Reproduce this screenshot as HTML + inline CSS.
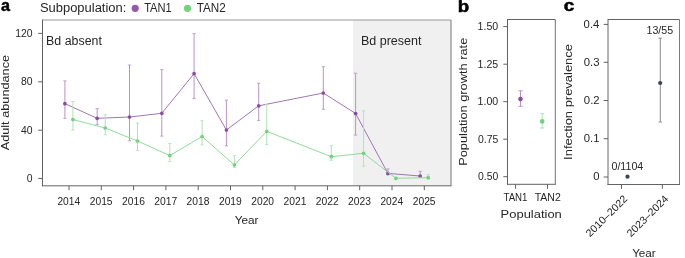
<!DOCTYPE html>
<html><head><meta charset="utf-8"><style>
html,body{margin:0;padding:0;background:#fff;width:685px;height:258px;overflow:hidden}
svg{display:block;font-family:"Liberation Sans", sans-serif;will-change:transform}
</style></head><body>
<svg width="685" height="258" viewBox="0 0 685 258">
<text x="0.93" y="10.7" font-size="16" textLength="8.97" lengthAdjust="spacingAndGlyphs" font-weight="bold" stroke="#000" stroke-width="0.5" fill="#000">a</text>
<text x="457.87" y="12.4" font-size="16" textLength="11.39" lengthAdjust="spacingAndGlyphs" font-weight="bold" stroke="#000" stroke-width="0.5" fill="#000">b</text>
<text x="563.86" y="11.2" font-size="16" textLength="10.49" lengthAdjust="spacingAndGlyphs" font-weight="bold" stroke="#000" stroke-width="0.5" fill="#000">c</text>
<text x="39.91" y="11.5" font-size="12" textLength="86.47" lengthAdjust="spacingAndGlyphs" fill="#262626">Subpopulation:</text>
<circle cx="135.2" cy="8.3" r="3.6" fill="#955aa9"/>
<text x="144.16" y="11.5" font-size="12" textLength="27.57" lengthAdjust="spacingAndGlyphs" fill="#262626">TAN1</text>
<circle cx="187.5" cy="8.3" r="3.6" fill="#74d27f"/>
<text x="196.64" y="11.5" font-size="12" textLength="29.03" lengthAdjust="spacingAndGlyphs" fill="#262626">TAN2</text>
<rect x="353" y="20.0" width="98.0" height="165.8" fill="#f0f0f0"/>
<line x1="42.5" y1="20" x2="451" y2="20" stroke="#999999" stroke-width="1"/>
<line x1="451" y1="20" x2="451" y2="185.8" stroke="#777777" stroke-width="1"/>
<line x1="42.5" y1="19.5" x2="42.5" y2="186.3" stroke="#626262" stroke-width="1"/>
<line x1="42" y1="185.8" x2="451.5" y2="185.8" stroke="#666666" stroke-width="1"/>
<line x1="38.2" y1="178.45" x2="42.5" y2="178.45" stroke="#626262" stroke-width="1"/>
<text x="26.82" y="181.85" font-size="10" textLength="5.78" lengthAdjust="spacingAndGlyphs" fill="#262626">0</text>
<line x1="38.2" y1="130.2" x2="42.5" y2="130.2" stroke="#626262" stroke-width="1"/>
<text x="21.04" y="133.6" font-size="10" textLength="11.57" lengthAdjust="spacingAndGlyphs" fill="#262626">40</text>
<line x1="38.2" y1="81.8" x2="42.5" y2="81.8" stroke="#626262" stroke-width="1"/>
<text x="21.04" y="85.2" font-size="10" textLength="11.57" lengthAdjust="spacingAndGlyphs" fill="#262626">80</text>
<line x1="38.2" y1="33.4" x2="42.5" y2="33.4" stroke="#626262" stroke-width="1"/>
<text x="15.25" y="36.8" font-size="10" textLength="17.35" lengthAdjust="spacingAndGlyphs" fill="#262626">120</text>
<line x1="69" y1="185.8" x2="69" y2="190.2" stroke="#626262" stroke-width="1"/>
<text x="57.44" y="204.5" font-size="10" textLength="22.71" lengthAdjust="spacingAndGlyphs" fill="#262626">2014</text>
<line x1="101.3" y1="185.8" x2="101.3" y2="190.2" stroke="#626262" stroke-width="1"/>
<text x="89.73" y="204.5" font-size="10" textLength="22.85" lengthAdjust="spacingAndGlyphs" fill="#262626">2015</text>
<line x1="133.6" y1="185.8" x2="133.6" y2="190.2" stroke="#626262" stroke-width="1"/>
<text x="122.03" y="204.5" font-size="10" textLength="22.87" lengthAdjust="spacingAndGlyphs" fill="#262626">2016</text>
<line x1="165.9" y1="185.8" x2="165.9" y2="190.2" stroke="#626262" stroke-width="1"/>
<text x="154.33" y="204.5" font-size="10" textLength="22.94" lengthAdjust="spacingAndGlyphs" fill="#262626">2017</text>
<line x1="198.2" y1="185.8" x2="198.2" y2="190.2" stroke="#626262" stroke-width="1"/>
<text x="186.63" y="204.5" font-size="10" textLength="22.86" lengthAdjust="spacingAndGlyphs" fill="#262626">2018</text>
<line x1="230.5" y1="185.8" x2="230.5" y2="190.2" stroke="#626262" stroke-width="1"/>
<text x="218.93" y="204.5" font-size="10" textLength="22.91" lengthAdjust="spacingAndGlyphs" fill="#262626">2019</text>
<line x1="262.8" y1="185.8" x2="262.8" y2="190.2" stroke="#626262" stroke-width="1"/>
<text x="251.23" y="204.5" font-size="10" textLength="22.82" lengthAdjust="spacingAndGlyphs" fill="#262626">2020</text>
<line x1="295.1" y1="185.8" x2="295.1" y2="190.2" stroke="#626262" stroke-width="1"/>
<text x="283.53" y="204.5" font-size="10" textLength="22.92" lengthAdjust="spacingAndGlyphs" fill="#262626">2021</text>
<line x1="327.4" y1="185.8" x2="327.4" y2="190.2" stroke="#626262" stroke-width="1"/>
<text x="315.83" y="204.5" font-size="10" textLength="22.94" lengthAdjust="spacingAndGlyphs" fill="#262626">2022</text>
<line x1="359.7" y1="185.8" x2="359.7" y2="190.2" stroke="#626262" stroke-width="1"/>
<text x="348.13" y="204.5" font-size="10" textLength="22.87" lengthAdjust="spacingAndGlyphs" fill="#262626">2023</text>
<line x1="392" y1="185.8" x2="392" y2="190.2" stroke="#626262" stroke-width="1"/>
<text x="380.44" y="204.5" font-size="10" textLength="22.71" lengthAdjust="spacingAndGlyphs" fill="#262626">2024</text>
<line x1="424.3" y1="185.8" x2="424.3" y2="190.2" stroke="#626262" stroke-width="1"/>
<text x="412.73" y="204.5" font-size="10" textLength="22.85" lengthAdjust="spacingAndGlyphs" fill="#262626">2025</text>
<text x="234.65" y="223.8" font-size="11.5" textLength="23.84" lengthAdjust="spacingAndGlyphs" fill="#262626">Year</text>
<text transform="translate(9.0,150.3) rotate(-90)" x="-0.02" y="0" font-size="11.5" textLength="95.39" lengthAdjust="spacingAndGlyphs" fill="#262626">Adult abundance</text>
<text x="46.08" y="44.8" font-size="12" textLength="55.81" lengthAdjust="spacingAndGlyphs" fill="#262626">Bd absent</text>
<text x="360.97" y="44.8" font-size="12" textLength="60.52" lengthAdjust="spacingAndGlyphs" fill="#262626">Bd present</text>
<polyline points="64.9,103.7 97.2,118.3 129.5,117 161.8,113.3 194.1,73.6 226.4,130 258.7,105.8 323.3,93 355.6,113.5 387.9,173.4 420.2,176" fill="none" stroke="#a373b8" stroke-width="1"/>
<line x1="64.9" y1="80.9" x2="64.9" y2="118.3" stroke="#ba92cb" stroke-width="1"/>
<line x1="63.25" y1="80.9" x2="66.55" y2="80.9" stroke="#ba92cb" stroke-width="0.85"/>
<line x1="63.25" y1="118.3" x2="66.55" y2="118.3" stroke="#ba92cb" stroke-width="0.85"/>
<line x1="97.2" y1="108.7" x2="97.2" y2="124.6" stroke="#ba92cb" stroke-width="1"/>
<line x1="95.55" y1="108.7" x2="98.85" y2="108.7" stroke="#ba92cb" stroke-width="0.85"/>
<line x1="95.55" y1="124.6" x2="98.85" y2="124.6" stroke="#ba92cb" stroke-width="0.85"/>
<line x1="129.5" y1="65" x2="129.5" y2="140.7" stroke="#ba92cb" stroke-width="1"/>
<line x1="127.85" y1="65" x2="131.15" y2="65" stroke="#ba92cb" stroke-width="0.85"/>
<line x1="127.85" y1="140.7" x2="131.15" y2="140.7" stroke="#ba92cb" stroke-width="0.85"/>
<line x1="161.8" y1="69.6" x2="161.8" y2="136.1" stroke="#ba92cb" stroke-width="1"/>
<line x1="160.15" y1="69.6" x2="163.45" y2="69.6" stroke="#ba92cb" stroke-width="0.85"/>
<line x1="160.15" y1="136.1" x2="163.45" y2="136.1" stroke="#ba92cb" stroke-width="0.85"/>
<line x1="194.1" y1="33.6" x2="194.1" y2="98.6" stroke="#ba92cb" stroke-width="1"/>
<line x1="192.45" y1="33.6" x2="195.75" y2="33.6" stroke="#ba92cb" stroke-width="0.85"/>
<line x1="192.45" y1="98.6" x2="195.75" y2="98.6" stroke="#ba92cb" stroke-width="0.85"/>
<line x1="226.4" y1="100.1" x2="226.4" y2="145.8" stroke="#ba92cb" stroke-width="1"/>
<line x1="224.75" y1="100.1" x2="228.05" y2="100.1" stroke="#ba92cb" stroke-width="0.85"/>
<line x1="224.75" y1="145.8" x2="228.05" y2="145.8" stroke="#ba92cb" stroke-width="0.85"/>
<line x1="258.7" y1="83.3" x2="258.7" y2="120.4" stroke="#ba92cb" stroke-width="1"/>
<line x1="257.05" y1="83.3" x2="260.35" y2="83.3" stroke="#ba92cb" stroke-width="0.85"/>
<line x1="257.05" y1="120.4" x2="260.35" y2="120.4" stroke="#ba92cb" stroke-width="0.85"/>
<line x1="323.3" y1="66.7" x2="323.3" y2="109.3" stroke="#ba92cb" stroke-width="1"/>
<line x1="321.65" y1="66.7" x2="324.95" y2="66.7" stroke="#ba92cb" stroke-width="0.85"/>
<line x1="321.65" y1="109.3" x2="324.95" y2="109.3" stroke="#ba92cb" stroke-width="0.85"/>
<line x1="355.6" y1="73.2" x2="355.6" y2="135.1" stroke="#ba92cb" stroke-width="1"/>
<line x1="353.95" y1="73.2" x2="357.25" y2="73.2" stroke="#ba92cb" stroke-width="0.85"/>
<line x1="353.95" y1="135.1" x2="357.25" y2="135.1" stroke="#ba92cb" stroke-width="0.85"/>
<line x1="387.9" y1="168.9" x2="387.9" y2="174.8" stroke="#ba92cb" stroke-width="1"/>
<line x1="386.25" y1="168.9" x2="389.55" y2="168.9" stroke="#ba92cb" stroke-width="0.85"/>
<line x1="386.25" y1="174.8" x2="389.55" y2="174.8" stroke="#ba92cb" stroke-width="0.85"/>
<line x1="420.2" y1="171.3" x2="420.2" y2="176.8" stroke="#ba92cb" stroke-width="1"/>
<line x1="418.55" y1="171.3" x2="421.85" y2="171.3" stroke="#ba92cb" stroke-width="0.85"/>
<line x1="418.55" y1="176.8" x2="421.85" y2="176.8" stroke="#ba92cb" stroke-width="0.85"/>
<circle cx="64.9" cy="103.7" r="1.85" fill="#8a4c9f"/>
<circle cx="97.2" cy="118.3" r="1.85" fill="#8a4c9f"/>
<circle cx="129.5" cy="117" r="1.85" fill="#8a4c9f"/>
<circle cx="161.8" cy="113.3" r="1.85" fill="#8a4c9f"/>
<circle cx="194.1" cy="73.6" r="1.85" fill="#8a4c9f"/>
<circle cx="226.4" cy="130" r="1.85" fill="#8a4c9f"/>
<circle cx="258.7" cy="105.8" r="1.85" fill="#8a4c9f"/>
<circle cx="323.3" cy="93" r="1.85" fill="#8a4c9f"/>
<circle cx="355.6" cy="113.5" r="1.85" fill="#8a4c9f"/>
<circle cx="387.9" cy="173.4" r="1.85" fill="#8a4c9f"/>
<circle cx="420.2" cy="176" r="1.85" fill="#8a4c9f"/>
<polyline points="72.9,119.5 105.2,128 137.5,141 169.8,155.6 202.1,136.5 234.4,165 266.7,131.3 331.3,156.7 363.6,153.3 395.9,178.3 428.2,177.7" fill="none" stroke="#90da98" stroke-width="1"/>
<line x1="72.9" y1="101.5" x2="72.9" y2="130.1" stroke="#aee5b3" stroke-width="1"/>
<line x1="71.25" y1="101.5" x2="74.55" y2="101.5" stroke="#aee5b3" stroke-width="0.85"/>
<line x1="71.25" y1="130.1" x2="74.55" y2="130.1" stroke="#aee5b3" stroke-width="0.85"/>
<line x1="105.2" y1="114.6" x2="105.2" y2="134.8" stroke="#aee5b3" stroke-width="1"/>
<line x1="103.55" y1="114.6" x2="106.85" y2="114.6" stroke="#aee5b3" stroke-width="0.85"/>
<line x1="103.55" y1="134.8" x2="106.85" y2="134.8" stroke="#aee5b3" stroke-width="0.85"/>
<line x1="137.5" y1="123" x2="137.5" y2="150.6" stroke="#aee5b3" stroke-width="1"/>
<line x1="135.85" y1="123" x2="139.15" y2="123" stroke="#aee5b3" stroke-width="0.85"/>
<line x1="135.85" y1="150.6" x2="139.15" y2="150.6" stroke="#aee5b3" stroke-width="0.85"/>
<line x1="169.8" y1="143.5" x2="169.8" y2="161.5" stroke="#aee5b3" stroke-width="1"/>
<line x1="168.15" y1="143.5" x2="171.45" y2="143.5" stroke="#aee5b3" stroke-width="0.85"/>
<line x1="168.15" y1="161.5" x2="171.45" y2="161.5" stroke="#aee5b3" stroke-width="0.85"/>
<line x1="202.1" y1="120.7" x2="202.1" y2="144.9" stroke="#aee5b3" stroke-width="1"/>
<line x1="200.45" y1="120.7" x2="203.75" y2="120.7" stroke="#aee5b3" stroke-width="0.85"/>
<line x1="200.45" y1="144.9" x2="203.75" y2="144.9" stroke="#aee5b3" stroke-width="0.85"/>
<line x1="234.4" y1="155.7" x2="234.4" y2="167.3" stroke="#aee5b3" stroke-width="1"/>
<line x1="232.75" y1="155.7" x2="236.05" y2="155.7" stroke="#aee5b3" stroke-width="0.85"/>
<line x1="232.75" y1="167.3" x2="236.05" y2="167.3" stroke="#aee5b3" stroke-width="0.85"/>
<line x1="266.7" y1="104.7" x2="266.7" y2="144.6" stroke="#aee5b3" stroke-width="1"/>
<line x1="265.05" y1="104.7" x2="268.35" y2="104.7" stroke="#aee5b3" stroke-width="0.85"/>
<line x1="265.05" y1="144.6" x2="268.35" y2="144.6" stroke="#aee5b3" stroke-width="0.85"/>
<line x1="331.3" y1="145.6" x2="331.3" y2="160.3" stroke="#aee5b3" stroke-width="1"/>
<line x1="329.65" y1="145.6" x2="332.95" y2="145.6" stroke="#aee5b3" stroke-width="0.85"/>
<line x1="329.65" y1="160.3" x2="332.95" y2="160.3" stroke="#aee5b3" stroke-width="0.85"/>
<line x1="363.6" y1="110.8" x2="363.6" y2="166.3" stroke="#aee5b3" stroke-width="1"/>
<line x1="361.95" y1="110.8" x2="365.25" y2="110.8" stroke="#aee5b3" stroke-width="0.85"/>
<line x1="361.95" y1="166.3" x2="365.25" y2="166.3" stroke="#aee5b3" stroke-width="0.85"/>
<line x1="395.9" y1="177.3" x2="395.9" y2="178.9" stroke="#aee5b3" stroke-width="1"/>
<line x1="394.25" y1="177.3" x2="397.55" y2="177.3" stroke="#aee5b3" stroke-width="0.85"/>
<line x1="394.25" y1="178.9" x2="397.55" y2="178.9" stroke="#aee5b3" stroke-width="0.85"/>
<line x1="428.2" y1="174.6" x2="428.2" y2="178.7" stroke="#aee5b3" stroke-width="1"/>
<line x1="426.55" y1="174.6" x2="429.85" y2="174.6" stroke="#aee5b3" stroke-width="0.85"/>
<line x1="426.55" y1="178.7" x2="429.85" y2="178.7" stroke="#aee5b3" stroke-width="0.85"/>
<circle cx="72.9" cy="119.5" r="1.85" fill="#74d27f"/>
<circle cx="105.2" cy="128" r="1.85" fill="#74d27f"/>
<circle cx="137.5" cy="141" r="1.85" fill="#74d27f"/>
<circle cx="169.8" cy="155.6" r="1.85" fill="#74d27f"/>
<circle cx="202.1" cy="136.5" r="1.85" fill="#74d27f"/>
<circle cx="234.4" cy="165" r="1.85" fill="#74d27f"/>
<circle cx="266.7" cy="131.3" r="1.85" fill="#74d27f"/>
<circle cx="331.3" cy="156.7" r="1.85" fill="#74d27f"/>
<circle cx="363.6" cy="153.3" r="1.85" fill="#74d27f"/>
<circle cx="395.9" cy="178.3" r="1.85" fill="#74d27f"/>
<circle cx="428.2" cy="177.7" r="1.85" fill="#74d27f"/>
<line x1="507.5" y1="19.5" x2="555.3" y2="19.5" stroke="#626262" stroke-width="1"/>
<line x1="555.3" y1="19.5" x2="555.3" y2="184.3" stroke="#707070" stroke-width="1"/>
<line x1="507.5" y1="19" x2="507.5" y2="184.8" stroke="#626262" stroke-width="1"/>
<line x1="507" y1="184.3" x2="555.8" y2="184.3" stroke="#626262" stroke-width="1"/>
<line x1="503.3" y1="26.6" x2="507.5" y2="26.6" stroke="#626262" stroke-width="1"/>
<text x="477.59" y="29.900000000000002" font-size="10" textLength="20.62" lengthAdjust="spacingAndGlyphs" fill="#262626">1.50</text>
<line x1="503.3" y1="64.2" x2="507.5" y2="64.2" stroke="#626262" stroke-width="1"/>
<text x="477.59" y="67.5" font-size="10" textLength="20.65" lengthAdjust="spacingAndGlyphs" fill="#262626">1.25</text>
<line x1="503.3" y1="101.7" x2="507.5" y2="101.7" stroke="#626262" stroke-width="1"/>
<text x="477.59" y="105.0" font-size="10" textLength="20.62" lengthAdjust="spacingAndGlyphs" fill="#262626">1.00</text>
<line x1="503.3" y1="139.2" x2="507.5" y2="139.2" stroke="#626262" stroke-width="1"/>
<text x="477.99" y="142.5" font-size="10" textLength="20.24" lengthAdjust="spacingAndGlyphs" fill="#262626">0.75</text>
<line x1="503.3" y1="176.7" x2="507.5" y2="176.7" stroke="#626262" stroke-width="1"/>
<text x="477.99" y="180.0" font-size="10" textLength="20.21" lengthAdjust="spacingAndGlyphs" fill="#262626">0.50</text>
<line x1="515.6" y1="184.3" x2="515.6" y2="188.8" stroke="#626262" stroke-width="1"/>
<line x1="547.5" y1="184.3" x2="547.5" y2="188.8" stroke="#626262" stroke-width="1"/>
<text x="503.49" y="201.0" font-size="10" textLength="23.97" lengthAdjust="spacingAndGlyphs" fill="#262626">TAN1</text>
<text x="534.67" y="201.0" font-size="10" textLength="26.14" lengthAdjust="spacingAndGlyphs" fill="#262626">TAN2</text>
<text x="500.64" y="217.5" font-size="11.5" textLength="61.2" lengthAdjust="spacingAndGlyphs" fill="#262626">Population</text>
<text transform="translate(467.4,164.8) rotate(-90)" x="-1.05" y="0" font-size="11.5" textLength="128.12" lengthAdjust="spacingAndGlyphs" fill="#262626">Population growth rate</text>
<line x1="520.5" y1="90.8" x2="520.5" y2="106.3" stroke="#ba92cb" stroke-width="1"/>
<line x1="518.5" y1="90.8" x2="522.5" y2="90.8" stroke="#ba92cb" stroke-width="1"/>
<line x1="518.5" y1="106.3" x2="522.5" y2="106.3" stroke="#ba92cb" stroke-width="1"/>
<circle cx="520.5" cy="99" r="2.3" fill="#8a4c9f"/>
<line x1="542.2" y1="113.7" x2="542.2" y2="128" stroke="#aee5b3" stroke-width="1"/>
<line x1="540.2" y1="113.7" x2="544.2" y2="113.7" stroke="#aee5b3" stroke-width="1"/>
<line x1="540.2" y1="128" x2="544.2" y2="128" stroke="#aee5b3" stroke-width="1"/>
<circle cx="542.2" cy="121.4" r="2.3" fill="#74d27f"/>
<line x1="608" y1="19.5" x2="679.5" y2="19.5" stroke="#626262" stroke-width="1"/>
<line x1="679.5" y1="19.5" x2="679.5" y2="184.5" stroke="#7a7a7a" stroke-width="1"/>
<line x1="608" y1="19" x2="608" y2="185" stroke="#666666" stroke-width="1"/>
<line x1="607.5" y1="184.5" x2="680" y2="184.5" stroke="#626262" stroke-width="1"/>
<line x1="603.7" y1="177" x2="608" y2="177" stroke="#626262" stroke-width="1"/>
<text x="593.16" y="180.3" font-size="10" textLength="6.28" lengthAdjust="spacingAndGlyphs" fill="#262626">0</text>
<line x1="603.7" y1="138.7" x2="608" y2="138.7" stroke="#626262" stroke-width="1"/>
<text x="583.84" y="142.0" font-size="10" textLength="15.71" lengthAdjust="spacingAndGlyphs" fill="#262626">0.1</text>
<line x1="603.7" y1="100.5" x2="608" y2="100.5" stroke="#626262" stroke-width="1"/>
<text x="583.86" y="103.8" font-size="10" textLength="15.71" lengthAdjust="spacingAndGlyphs" fill="#262626">0.2</text>
<line x1="603.7" y1="62.3" x2="608" y2="62.3" stroke="#626262" stroke-width="1"/>
<text x="583.79" y="65.6" font-size="10" textLength="15.71" lengthAdjust="spacingAndGlyphs" fill="#262626">0.3</text>
<line x1="603.7" y1="24.4" x2="608" y2="24.4" stroke="#626262" stroke-width="1"/>
<text x="583.62" y="27.7" font-size="10" textLength="15.71" lengthAdjust="spacingAndGlyphs" fill="#262626">0.4</text>
<line x1="621.5" y1="184.5" x2="621.5" y2="188.8" stroke="#626262" stroke-width="1"/>
<text transform="translate(628.1,199.5) rotate(-45)" x="-53.8" font-size="10.5" textLength="53.8" lengthAdjust="spacingAndGlyphs" fill="#262626">2010–2022</text>
<line x1="662.4" y1="184.5" x2="662.4" y2="188.8" stroke="#626262" stroke-width="1"/>
<text transform="translate(669.0,199.5) rotate(-45)" x="-53.8" font-size="10.5" textLength="53.8" lengthAdjust="spacingAndGlyphs" fill="#262626">2023–2024</text>
<text x="632.15" y="257.0" font-size="11.5" textLength="23.63" lengthAdjust="spacingAndGlyphs" fill="#262626">Year</text>
<text transform="translate(571.5,158.7) rotate(-90)" x="-1.19" y="0" font-size="11.5" textLength="115.87" lengthAdjust="spacingAndGlyphs" fill="#262626">Infection prevalence</text>
<line x1="660.3" y1="38.2" x2="660.3" y2="122" stroke="#8c8c8c" stroke-width="1"/>
<line x1="658.6" y1="38.2" x2="662" y2="38.2" stroke="#8c8c8c" stroke-width="1"/>
<line x1="658.6" y1="122" x2="662" y2="122" stroke="#8c8c8c" stroke-width="1"/>
<circle cx="660.2" cy="83" r="2.1" fill="#37474f"/>
<circle cx="627.5" cy="176.7" r="2.1" fill="#37474f"/>
<text x="611.5" y="169.7" font-size="10" textLength="31.71" lengthAdjust="spacingAndGlyphs" fill="#262626">0/1104</text>
<text x="646.49" y="34.1" font-size="10" textLength="26.66" lengthAdjust="spacingAndGlyphs" fill="#262626">13/55</text>
</svg>
</body></html>
